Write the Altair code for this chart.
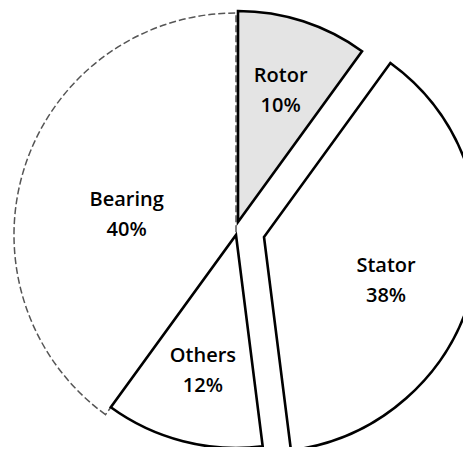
import math
import altair as alt
import pandas as pd

# ---- data (clockwise from 12 o'clock) ----
categories = ["Rotor", "Stator", "Others", "Bearing"]
shares = [10, 38, 12, 40]

df = pd.DataFrame({
    "category": categories,
    "share": shares,
    "order": list(range(len(categories))),
    "label": [f"{c}\n{v}%" for c, v in zip(categories, shares)],
})

# ---- style (exploded centres, radii, fills, label placement) ----
style = {
    "Bearing": dict(cx=228, cy=227, r=222, fill="white", stroke="#555555", sw=1.5, dash=[7, 3], lr=115, ldy=1),
    "Others":  dict(cx=228, cy=227, r=213, fill="white", stroke="black", sw=2.6, dash=None, lr=133, ldy=-8),
    "Stator":  dict(cx=256, cy=229, r=215, fill="white", stroke="black", sw=2.6, dash=None, lr=126, ldy=-2),
    "Rotor":   dict(cx=230, cy=214, r=211, fill="#e4e4e4", stroke="black", sw=2.6, dash=None, lr=138, ldy=-15),
}

theta_scale = alt.Scale(domain=[0, 100], range=[0, 2 * math.pi])

base = (
    alt.Chart(df)
    .transform_window(end="sum(share)", sort=[alt.SortField("order")], frame=[None, 0])
    .transform_calculate(start="datum.end - datum.share",
                         mid="datum.end - datum.share / 2")
)

arcs = []
texts = []
for cat in ["Bearing", "Others", "Stator", "Rotor"]:
    s = style[cat]
    mk = dict(fill=s["fill"], stroke=s["stroke"], strokeWidth=s["sw"], strokeJoin="miter")
    if s["dash"]:
        mk["strokeDash"] = s["dash"]
    arc = (
        base.transform_filter(alt.datum.category == cat)
        .mark_arc(**mk)
        .encode(
            theta=alt.Theta("start:Q", scale=theta_scale),
            theta2="end:Q",
            radius=alt.value(s["r"]),
            x=alt.value(s["cx"]),
            y=alt.value(s["cy"]),
        )
    )
    arcs.append(arc)
    txt = (
        base.transform_filter(alt.datum.category == cat)
        .mark_text(lineBreak="\n", font="Open Sans", fontSize=20, fontWeight=600,
                   color="black", align="center", baseline="middle", lineHeight=30,
                   dy=s["ldy"])
        .encode(
            theta=alt.Theta("mid:Q", scale=theta_scale),
            radius=alt.value(s["lr"]),
            x=alt.value(s["cx"]),
            y=alt.value(s["cy"]),
            text="label:N",
        )
    )
    texts.append(txt)

chart = (
    alt.layer(*arcs, *texts)
    .properties(width=455, height=439, padding=0, autosize=alt.AutoSizeParams(type="none"))
    .configure_view(stroke=None)
)

chart.save("out.html", embed_options={"renderer": "svg", "actions": False})
